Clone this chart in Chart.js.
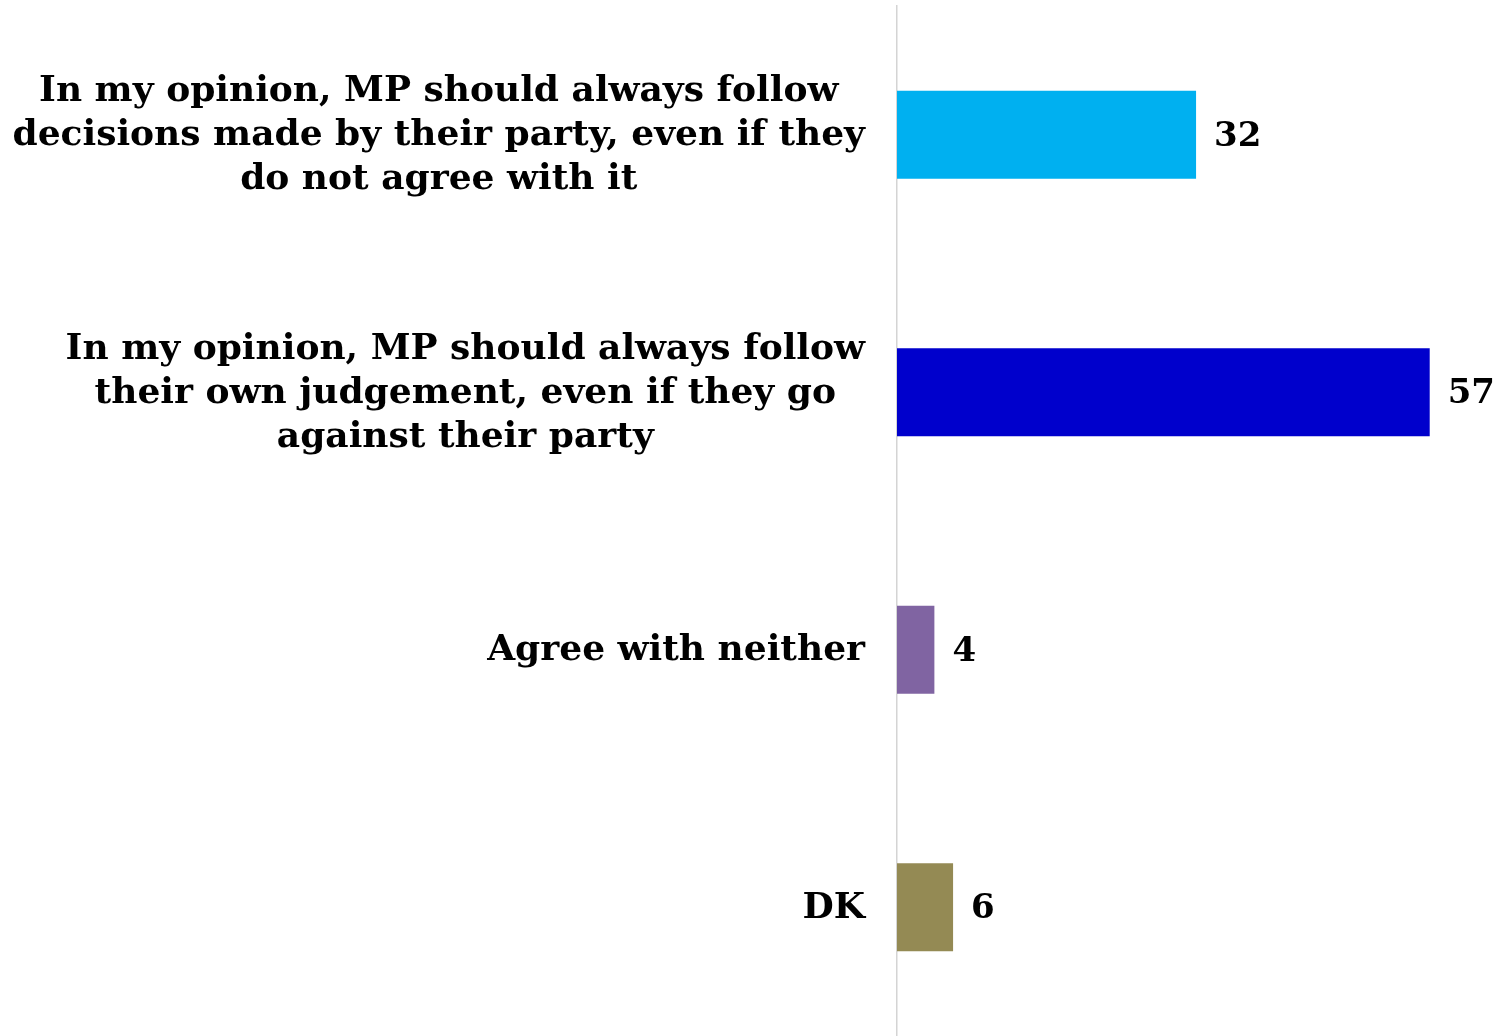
<!DOCTYPE html>
<html>
<head>
<meta charset="utf-8">
<script src="https://cdn.jsdelivr.net/npm/chart.js@4.4.1/dist/chart.umd.min.js"></script>
<style>
  html, body { margin: 0; padding: 0; background: #fff; }
  #wrap { width: 1497px; height: 1036px; }
</style>
</head>
<body>
<div id="wrap"><canvas id="chart"></canvas></div>
<script>
// Data
const categories = [
    ['In my opinion, MP should always follow', 'decisions made by their party, even if they', 'do not agree with it'],
    ['In my opinion, MP should always follow', 'their own judgement, even if they go', 'against their party'],
    ['Agree with neither'],
    ['DK']
];
const values = [32, 57, 4, 6];
const barColors = ['#00B0F0', '#0000CC', '#8064A2', '#948A54'];

const labelFont = 'bold 36px "DejaVu Serif", serif';
const valueFont = 'bold 34px "DejaVu Serif", serif';

// Category labels: each block centred on itself, block right-aligned to the axis
const categoryLabels = {
    id: 'categoryLabels',
    afterDraw(chart) {
        const ctx = chart.ctx;
        const yScale = chart.scales.y;
        const right = yScale.right - 32;
        ctx.save();
        ctx.font = labelFont;
        ctx.fillStyle = '#000';
        ctx.textAlign = 'center';
        ctx.textBaseline = 'middle';
        categories.forEach((lines, i) => {
            const y = yScale.getPixelForTick(i);
            const widest = Math.max(...lines.map(l => ctx.measureText(l).width));
            const cx = right - widest / 2;
            lines.forEach((line, j) => {
                ctx.fillText(line, cx, y + 1 + (j - (lines.length - 1) / 2) * 44);
            });
        });
        ctx.restore();
    }
};

// Value labels at the end of each bar
const valueLabels = {
    id: 'valueLabels',
    afterDatasetsDraw(chart) {
        const ctx = chart.ctx;
        const meta = chart.getDatasetMeta(0);
        ctx.save();
        ctx.font = valueFont;
        ctx.fillStyle = '#000';
        ctx.textAlign = 'left';
        ctx.textBaseline = 'middle';
        meta.data.forEach((bar, i) => {
            ctx.fillText(String(values[i]), bar.x + 18, bar.y + 2);
        });
        ctx.restore();
    }
};

new Chart(document.getElementById('chart'), {
    type: 'bar',
    data: {
        labels: categories.map(c => c.join(' ')),
        datasets: [{
            data: values,
            backgroundColor: barColors,
            borderWidth: 0,
            barPercentage: 0.341,
            categoryPercentage: 1
        }]
    },
    options: {
        indexAxis: 'y',
        responsive: true,
        maintainAspectRatio: false,
        animation: false,
        layout: { padding: { top: 6, right: 0, bottom: -3, left: 0 } },
        plugins: {
            legend: { display: false },
            tooltip: { enabled: false }
        },
        scales: {
            x: {
                display: false,
                min: 0,
                max: 64.2
            },
            y: {
                afterFit(scale) { scale.width = 897; },
                grid: { display: false },
                border: { display: true, color: '#d4d4d4', width: 1.5 },
                ticks: { display: false }
            }
        }
    },
    plugins: [categoryLabels, valueLabels]
});
</script>
</body>
</html>
